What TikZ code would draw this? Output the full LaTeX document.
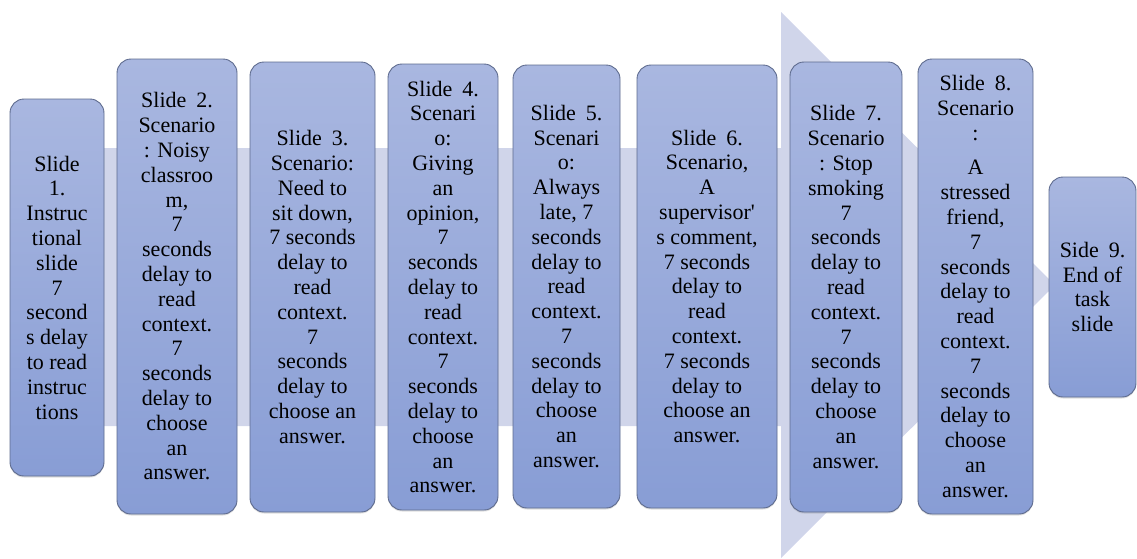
\documentclass[tikz,border=0pt]{standalone}
\usepackage{fontspec}
\setmainfont{LiberationSerif}[Extension=.ttf, UprightFont=*-Regular, Ligatures=TeXOff]
\usetikzlibrary{shadows}
\definecolor{bandcol}{HTML}{D0D5EA}
\definecolor{boxtop}{HTML}{A9B7E0}
\definecolor{boxbot}{HTML}{889DD5}
\definecolor{boxline}{HTML}{5E6B8E}
\newcommand\wsp{\hskip0.45em\relax}
\begin{document}
\begin{tikzpicture}[x=1pt,y=-1pt,
  slidebox/.style={draw=boxline, line width=0.9pt, rounded corners=14pt,
    top color=boxtop, bottom color=boxbot, inner sep=0pt, align=center,
    font=\rmfamily\fontsize{22}{24.8}\selectfont, text=black,
    drop shadow={opacity=0.25, shadow xshift=0pt, shadow yshift=-1.5pt}}]
\useasboundingbox (0,0) rectangle (1137,558);
% background process arrow
\fill[bandcol] (10,148) -- (781,148) -- (781,12) -- (1055,285) -- (781,558)
  -- (781,426) -- (10,426) -- cycle;
% slide boxes
\node[slidebox, minimum width=94pt, minimum height=377pt] (s1) at (57,287.5)
  {Slide\\1.\\Instruc\\tional\\slide\\7\\second\\s delay\\to read\\instruc\\tions};
\node[slidebox, minimum width=120pt, minimum height=455pt] (s2) at (177,286.5)
  {Slide\wsp 2.\\Scenario\\: Noisy\\classroo\\m,\\7\\seconds\\delay to\\read\\context.\\7\\seconds\\delay to\\choose\\an\\answer.};
\node[slidebox, minimum width=125pt, minimum height=450pt] (s3) at (312.5,287)
  {Slide\wsp 3.\\Scenario:\\Need to\\sit down,\\7 seconds\\delay to\\read\\context.\\7\\seconds\\delay to\\choose an\\answer.};
\node[slidebox, minimum width=110pt, minimum height=446pt] (s4) at (443,287)
  {Slide\wsp 4.\\Scenari\\o:\\Giving\\an\\opinion,\\7\\seconds\\delay to\\read\\context.\\7\\seconds\\delay to\\choose\\an\\answer.};
\node[slidebox, minimum width=107pt, minimum height=443pt] (s5) at (566.5,286.5)
  {Slide\wsp 5.\\Scenari\\o:\\Always\\late, 7\\seconds\\delay to\\read\\context.\\7\\seconds\\delay to\\choose\\an\\answer.};
\node[slidebox, minimum width=140pt, minimum height=443pt] (s6) at (707,286.5)
  {Slide\wsp 6.\\Scenario,\\A\\supervisor'\\s comment,\\7 seconds\\delay to\\read\\context.\\7 seconds\\delay to\\choose an\\answer.};
\node[slidebox, minimum width=112pt, minimum height=450pt] (s7) at (846,287)
  {Slide\wsp 7.\\Scenario\\: Stop\\smoking\\7\\seconds\\delay to\\read\\context.\\7\\seconds\\delay to\\choose\\an\\answer.};
\node[slidebox, minimum width=115pt, minimum height=455pt] (s8) at (975.5,286.5)
  {Slide\wsp 8.\\Scenario\\:\\[10pt]A\\stressed\\friend,\\7\\seconds\\delay to\\read\\context.\\7\\seconds\\delay to\\choose\\an\\answer.};
\node[slidebox, minimum width=87pt, minimum height=220pt] (s9) at (1092.5,287)
  {Side\wsp 9.\\End of\\task\\slide};
\end{tikzpicture}
\end{document}
